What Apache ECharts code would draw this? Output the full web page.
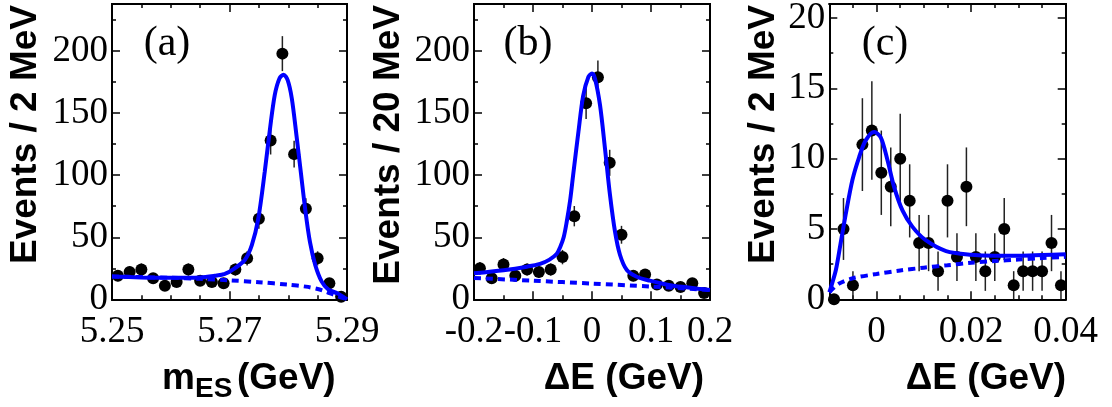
<!DOCTYPE html>
<html><head><meta charset="utf-8">
<script src="https://cdn.jsdelivr.net/npm/echarts@6/dist/echarts.min.js"></script>
<style>html,body{margin:0;padding:0;background:#fff}#c{width:1112px;height:407px}</style>
</head><body><div id="c"></div>
<script>
// ---------- Panel (a): mES ----------
const binsA = [5.251,5.253,5.255,5.257,5.259,5.261,5.263,5.265,5.267,5.269,5.271,5.273,5.275,5.277,5.279,5.281,5.283,5.285,5.287,5.289];
const eventsA = [19,22,24,17,11,14,24,15,14,13,24,33,65,128,198,117,73,33,13,2];
const errA = [4.4,4.7,4.9,4.1,3.3,3.7,4.9,3.9,3.7,3.6,4.9,5.7,8.1,11.3,14.1,10.8,8.5,5.7,3.6,1.4];
const fitAx = [5.250,5.255,5.260,5.265,5.2675,5.2692,5.2709,5.2726,5.2738,5.2749,5.2760,5.2769,5.2777,5.2785,5.2792,5.2799,5.2806,5.2814,5.2822,5.2829,5.2837,5.2846,5.2857,5.2868,5.2885,5.2900];
const fitAy = [18.3,17.6,17.3,17.6,19,20.5,25,31.7,43.7,65,102.8,137.7,164.6,178,181,176.6,162,132,100,72,46,27.6,14.2,8,4.5,0];
const bkgAx = [5.250,5.255,5.260,5.265,5.270,5.275,5.280,5.283,5.285,5.2865,5.2877,5.2887,5.290];
const bkgAy = [18.3,17.9,17.3,16.5,15.3,13.8,11.8,10.2,8.3,6,3.8,2,0];

// ---------- Panel (b): Delta E ----------
const binsB = [-0.19,-0.17,-0.15,-0.13,-0.11,-0.09,-0.07,-0.05,-0.03,-0.01,0.01,0.03,0.05,0.07,0.09,0.11,0.13,0.15,0.17,0.19];
const eventsB = [25,17,28,19,24,22,24,34,67,158,179,110,52,19,20,12,11,10,13,5];
const errB = [5.0,4.1,5.3,4.4,4.9,4.7,4.9,5.8,8.2,12.6,13.4,10.5,7.2,4.4,4.5,3.5,3.3,3.2,3.6,2.2];
const fitBx = [-0.2,-0.15,-0.11,-0.088,-0.072,-0.06,-0.054,-0.048,-0.043,-0.037,-0.032,-0.023,-0.015,-0.006,0,0.005,0.0136,0.022,0.0305,0.039,0.0475,0.059,0.0758,0.098,0.12,0.14,0.16,0.18,0.2];
const fitBy = [21,23.5,26.3,28.5,32,36.5,42,50,62,80,100,135,164,179.3,182,178,156.5,121.6,84,54.5,35.7,23.6,18.2,15,12.5,10.8,9.7,8.5,7.5];
const bkgBx = [-0.2,-0.1,0,0.1,0.2];
const bkgBy = [17.2,15,12.7,10.3,7.5];

// ---------- Panel (c): Delta E ----------
const binsC = [-0.009,-0.007,-0.005,-0.003,-0.001,0.001,0.003,0.005,0.007,0.009,0.011,0.013,0.015,0.017,0.019,0.021,0.023,0.025,0.027,0.029,0.031,0.033,0.035,0.037,0.039];
const eventsC = [0,5,1,11,12,9,8,10,7,4,4,2,7,3,8,3,2,3,5,1,2,2,2,4,1];
const errC = [0,2.2,1,3.3,3.5,3,2.8,3.2,2.6,2,2,1.4,2.6,1.7,2.8,1.7,1.4,1.7,2.2,1,1.4,1.4,1.4,2,1];
const fitCx = [-0.01,-0.0097,-0.0086,-0.0076,-0.0065,-0.0051,-0.0037,-0.0023,-0.0005,0.0009,0.0023,0.0037,0.0055,0.0076,0.0104,0.0147,0.02,0.025,0.03,0.035,0.04];
const fitCy = [0.5,0.8,2.1,4.0,6.1,8.5,10.1,11.3,11.9,11.5,9.9,8.0,6.3,5.15,4.2,3.43,3.17,3.1,3.1,3.15,3.2];
const bkgCx = [-0.01,-0.008,-0.005,0,0.005,0.01,0.015,0.02,0.025,0.03,0.035,0.04];
const bkgCy = [0.5,1.1,1.5,1.8,2.05,2.25,2.42,2.6,2.72,2.83,2.93,3.02];

// ---------- Ticks ----------
const xMajorA = [5.25,5.27,5.29];
const xMinorA = [5.255,5.26,5.265,5.275,5.28,5.285];
const xMajorB = [-0.2,-0.1,0,0.1,0.2];
const xMinorB = [-0.15,-0.05,0.05,0.15];
const xMajorC = [0,0.02,0.04];
const xMinorC = [-0.005,0.005,0.01,0.015,0.025,0.03,0.035];
const yMajorAB = [0,50,100,150,200];
const yMinorAB = [25,75,125,175,225];
const yMajorC = [0,5,10,15,20];
const yMinorC = [2.5,7.5,12.5,17.5];

const panelTags = ['(a)','(b)','(c)'];
const yTitles = ['Events / 2 MeV','Events / 20 MeV','Events / 2 MeV'];
const xTitleB = '\u0394E (GeV)';
const xTitleC = '\u0394E (GeV)';

const SERIF = '"Liberation Serif","Times New Roman",serif';
const SANS = '"Liberation Sans",Arial,sans-serif';
const BLUE = '#0000ff';

const panels = [
  {grid:{left:112,top:4,width:235,height:295.3}, xr:[5.25,5.29], yr:[0,238], xMaj:xMajorA, xMin:xMinorA, yMaj:yMajorAB, yMin:yMinorAB,
   bins:binsA, ev:eventsA, err:errA, fx:fitAx, fy:fitAy, bx:bkgAx, by:bkgAy},
  {grid:{left:474,top:4,width:236,height:295.3}, xr:[-0.2,0.2], yr:[0,238], xMaj:xMajorB, xMin:xMinorB, yMaj:yMajorAB, yMin:yMinorAB,
   bins:binsB, ev:eventsB, err:errB, fx:fitBx, fy:fitBy, bx:bkgBx, by:bkgBy},
  {grid:{left:829.3,top:4,width:236.4,height:295.3}, xr:[-0.01,0.04], yr:[0,21], xMaj:xMajorC, xMin:xMinorC, yMaj:yMajorC, yMin:yMinorC,
   bins:binsC, ev:eventsC, err:errC, fx:fitCx, fy:fitCy, bx:bkgCx, by:bkgCy}
];

function fmt(v){ return String(parseFloat(Number(v).toFixed(4))); }

const grids = [], xAxes = [], yAxes = [], series = [];
function axis(kind, gi, range, pos, vals, len, labels){
  return {
    type:'value', gridIndex:gi, position:pos, min:range[0], max:range[1],
    axisLine:{show:true, onZero:false, lineStyle:{color:'#000', width:2}},
    axisTick:{show:true, inside:true, length:len, customValues:vals, lineStyle:{color:'#000', width:1.5}},
    axisLabel:{show:labels, customValues:vals, margin: kind==='x'?14:4, fontFamily:SERIF, fontSize:37, color:'#000', formatter:fmt,
               showMinLabel:true, showMaxLabel:true},
    splitLine:{show:false}, minorTick:{show:false}, minorSplitLine:{show:false}, splitArea:{show:false}
  };
}
panels.forEach((p, gi) => {
  grids.push(Object.assign({containLabel:false, outerBoundsMode:'none', show:false}, p.grid));
  const xi = xAxes.length, yi = yAxes.length;
  xAxes.push(axis('x', gi, p.xr, 'bottom', p.xMaj, 8, true));
  xAxes.push(axis('x', gi, p.xr, 'bottom', p.xMin, 4, false));
  xAxes.push(axis('x', gi, p.xr, 'top', p.xMaj, 8, false));
  xAxes.push(axis('x', gi, p.xr, 'top', p.xMin, 4, false));
  yAxes.push(axis('y', gi, p.yr, 'left', p.yMaj, 8, true));
  yAxes.push(axis('y', gi, p.yr, 'left', p.yMin, 4, false));
  yAxes.push(axis('y', gi, p.yr, 'right', p.yMaj, 8, false));
  yAxes.push(axis('y', gi, p.yr, 'right', p.yMin, 4, false));
  const common = {xAxisIndex:xi, yAxisIndex:yi, silent:true, animation:false};
  series.push(Object.assign({
    type:'custom', z:2,
    data:p.bins.map((x,i)=>[x, p.ev[i]-p.err[i], p.ev[i]+p.err[i]]),
    encode:{x:0, y:[1,2]},
    renderItem:(params, api)=>{
      const a = api.coord([api.value(0), api.value(1)]);
      const b = api.coord([api.value(0), api.value(2)]);
      return {type:'line', shape:{x1:a[0], y1:a[1], x2:b[0], y2:b[1]}, style:{stroke:'#222', lineWidth:1.5}};
    }
  }, common));
  series.push(Object.assign({
    type:'scatter', z:3, symbol:'circle', symbolSize:12, itemStyle:{color:'#000', opacity:1, borderWidth:0},
    data:p.bins.map((x,i)=>[x, p.ev[i]])
  }, common));
  series.push(Object.assign({
    type:'line', z:4, showSymbol:false, symbol:'none', smooth:0.3,
    lineStyle:{color:BLUE, width:4, type:[7,5], cap:'butt', opacity:1},
    data:p.bx.map((x,i)=>[x, p.by[i]])
  }, common));
  series.push(Object.assign({
    type:'line', z:5, showSymbol:false, symbol:'none', smooth:0.3,
    lineStyle:{color:BLUE, width:4, opacity:1},
    data:p.fx.map((x,i)=>[x, p.fy[i]])
  }, common));
});

function txt(x, y, text, font, align, valign, rot){
  return {type:'text', x:x, y:y, rotation:rot||0, silent:true, z:10,
    style:{text:text, font:font, fill:'#000', textAlign:align, align:align, textVerticalAlign:valign, verticalAlign:valign}};
}
const TITLE = 'bold 37px ' + SANS;
const TAG = '42px ' + SERIF;
const graphic = [
  txt(26, 5, yTitles[0], TITLE, 'right', 'middle', Math.PI/2),
  txt(389, 5, yTitles[1], TITLE, 'right', 'middle', Math.PI/2),
  txt(764, 5, yTitles[2], TITLE, 'right', 'middle', Math.PI/2),
  txt(195, 379, 'm', TITLE, 'right', 'middle'),
  txt(195, 389, 'ES', 'bold 28px ' + SANS, 'left', 'middle'),
  txt(237, 379, '(GeV)', TITLE, 'left', 'middle'),
  txt(704, 379, xTitleB, TITLE, 'right', 'middle'),
  txt(1066, 379, xTitleC, TITLE, 'right', 'middle'),
  txt(167, 44, panelTags[0], TAG, 'center', 'middle'),
  txt(528, 44, panelTags[1], TAG, 'center', 'middle'),
  txt(885, 44, panelTags[2], TAG, 'center', 'middle')
];

const chart = echarts.init(document.getElementById('c'), null, {renderer:'canvas'});
chart.setOption({
  backgroundColor:'#fff', animation:false,
  grid:grids, xAxis:xAxes, yAxis:yAxes, series:series, graphic:graphic
});
</script></body></html>
